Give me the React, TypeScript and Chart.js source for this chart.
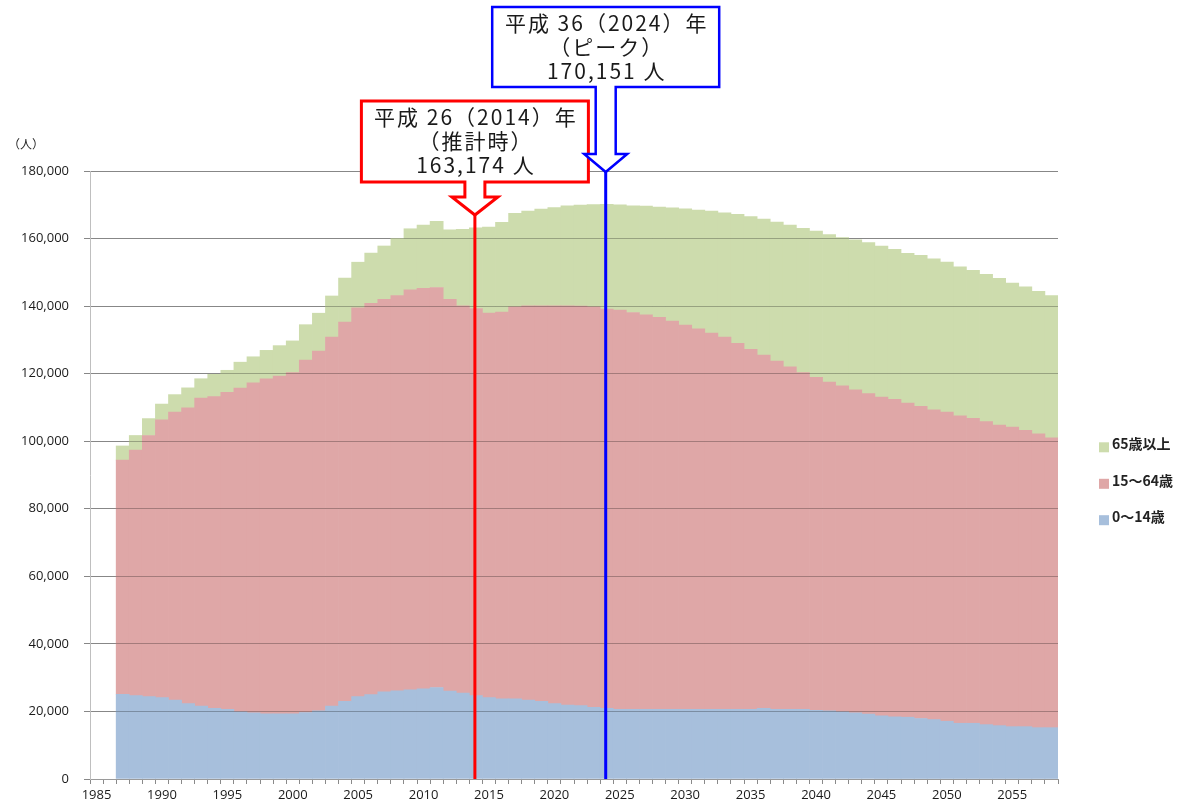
import React, { useEffect, useRef } from 'react';
import { Chart, registerables } from 'chart.js';

Chart.register(...registerables);

// ---- Data ----
const years = [
  1985, 1986, 1987, 1988, 1989, 1990, 1991, 1992, 1993, 1994,
  1995, 1996, 1997, 1998, 1999, 2000, 2001, 2002, 2003, 2004,
  2005, 2006, 2007, 2008, 2009, 2010, 2011, 2012, 2013, 2014,
  2015, 2016, 2017, 2018, 2019, 2020, 2021, 2022, 2023, 2024,
  2025, 2026, 2027, 2028, 2029, 2030, 2031, 2032, 2033, 2034,
  2035, 2036, 2037, 2038, 2039, 2040, 2041, 2042, 2043, 2044,
  2045, 2046, 2047, 2048, 2049, 2050, 2051, 2052, 2053, 2054,
  2055, 2056, 2057, 2058,
];

const xLabelYears = [1985, 1990, 1995, 2000, 2005, 2010, 2015, 2020, 2025, 2030, 2035, 2040, 2045, 2050, 2055];

const age0to14 = [
  null, null, 25100, 24700, 24400, 24100, 23400, 22300, 21600, 20900,
  20600, 19900, 19600, 19300, 19300, 19300, 19700, 20200, 21600, 23000,
  24400, 25000, 25800, 26100, 26400, 26700, 27100, 26000, 25400, 24700,
  24100, 23700, 23700, 23400, 23000, 22300, 21900, 21700, 21200, 20900,
  20600, 20600, 20600, 20600, 20600, 20600, 20600, 20600, 20600, 20600,
  20600, 20900, 20600, 20600, 20600, 20300, 20200, 19900, 19600, 19200,
  18700, 18400, 18300, 17900, 17600, 17100, 16500, 16500, 16100, 15800,
  15500, 15500, 15200, 15200,
];

const age15to64 = [
  null, null, 69300, 72700, 77300, 82200, 85200, 87600, 91200, 92300,
  93900, 95800, 97700, 99200, 100000, 101000, 104300, 106500, 109200, 112300,
  115100, 115800, 116200, 117000, 118400, 118600, 118400, 116000, 114700, 114600,
  113800, 114500, 116100, 116700, 117100, 117800, 118200, 118300, 118600, 118200,
  118200, 117500, 116800, 116100, 115000, 113800, 112700, 111400, 110200, 108400,
  106600, 104600, 103100, 101400, 99700, 98600, 97300, 96500, 95600, 94900,
  94400, 94000, 93000, 92400, 91700, 91500, 91000, 90300, 89700, 89000,
  88700, 87700, 87000, 85800,
];

const age65plus = [
  null, null, 4200, 4300, 5000, 4700, 5200, 5900, 5700, 6600,
  6500, 7700, 7700, 8400, 9000, 9400, 10500, 11200, 12200, 13000,
  13500, 14900, 15800, 16900, 18100, 18700, 19600, 20600, 22600, 23874,
  25500, 26600, 27700, 28000, 28600, 29100, 29600, 29900, 30250, 31051,
  31200, 31600, 32200, 32600, 33500, 34400, 35100, 36100, 36800, 38200,
  39300, 40300, 41200, 42000, 42700, 43300, 43700, 43900, 44400, 44700,
  44700, 44400, 44300, 44700, 44700, 44400, 44100, 43800, 43600, 43400,
  42600, 42500, 42200, 42100,
];

const seriesNames = ['0〜14歳', '15〜64歳', '65歳以上'];
const yTicks = [0, 20000, 40000, 60000, 80000, 100000, 120000, 140000, 160000, 180000];
const unitLabel = '（人）';

const calloutYears = [2014, 2024];
const calloutTexts = [
  ['平成 26（2014）年', '（推計時）', '163,174 人'],
  ['平成 36（2024）年', '（ピーク）', '170,151 人'],
];

// ---- Styles ----
const seriesColors = ['#A7BFDC', '#DFA7A7', '#CDDCAD'];
const calloutStyles = [
  { color: '#FF0000', top: 101, boxBottom: 182, half: 113.5, stemHalf: 10, stemBottom: 197, wingHalf: 23, tipY: 215, lw: 3 },
  { color: '#0000FF', top: 7, boxBottom: 87, half: 113.5, stemHalf: 10, stemBottom: 154, wingHalf: 21.5, tipY: 172, lw: 2.5 },
];
const CJK = '"Noto Sans CJK JP", "Noto Sans", sans-serif';
const LATIN = '"Open Sans", "Liberation Sans", sans-serif';

const alignPixel = (p: number, w: number) => Math.round(p - w / 2) + w / 2;

const gridOverlayPlugin = {
  id: 'gridOverlay',
  afterDatasetsDraw(chart: any) {
    const ctx = chart.ctx;
    const area = chart.chartArea;
    const yScale = chart.scales.y;
    const topMeta = chart.getDatasetMeta(chart.data.datasets.length - 1);
    ctx.save();
    ctx.beginPath();
    topMeta.data.forEach((el: any) => {
      const p = el.getProps(['x', 'y', 'width'], true);
      if (p.y == null || isNaN(p.y)) return;
      ctx.rect(p.x - p.width / 2 - 0.3, p.y, p.width + 0.6, area.bottom - p.y);
    });
    ctx.clip();
    ctx.globalCompositeOperation = 'multiply';
    ctx.strokeStyle = 'rgb(188,188,188)';
    ctx.lineWidth = 1;
    yTicks.forEach((v) => {
      const y = alignPixel(yScale.getPixelForValue(v), 1);
      ctx.beginPath();
      ctx.moveTo(area.left, y);
      ctx.lineTo(area.right, y);
      ctx.stroke();
    });
    ctx.restore();
  },
};

const decorPlugin = {
  id: 'decor',
  afterDraw(chart: any) {
    const ctx = chart.ctx;
    const area = chart.chartArea;
    const xScale = chart.scales.x;
    ctx.save();

    // unit label
    ctx.fillStyle = '#222';
    ctx.font = `12px ${CJK}`;
    ctx.textAlign = 'left';
    ctx.textBaseline = 'middle';
    ctx.fillText(unitLabel, 8, 144);

    // legend (reverse order: top series first)
    const legendX = area.right + 41;
    const rowCenters = [443.8, 480.3, 516.7];
    ctx.font = `bold 14px ${CJK}`;
    for (let r = 0; r < 3; r++) {
      const si = 2 - r;
      const yc = rowCenters[r];
      ctx.fillStyle = seriesColors[si];
      ctx.fillRect(legendX, yc - 1.5, 10, 10);
      ctx.fillStyle = '#222';
      ctx.textAlign = 'left';
      ctx.textBaseline = 'middle';
      ctx.fillText(seriesNames[si], legendX + 13, yc);
    }

    // callouts
    calloutYears.forEach((yr, k) => {
      const s = calloutStyles[k];
      const cx = xScale.getPixelForValue(years.indexOf(yr)) - 1;
      ctx.lineJoin = 'miter';
      ctx.strokeStyle = s.color;
      ctx.lineWidth = 3;
      ctx.beginPath();
      ctx.moveTo(cx, s.tipY);
      ctx.lineTo(cx, area.bottom);
      ctx.stroke();

      ctx.beginPath();
      ctx.moveTo(cx - s.half, s.top);
      ctx.lineTo(cx + s.half, s.top);
      ctx.lineTo(cx + s.half, s.boxBottom);
      ctx.lineTo(cx + s.stemHalf, s.boxBottom);
      ctx.lineTo(cx + s.stemHalf, s.stemBottom);
      ctx.lineTo(cx + s.wingHalf, s.stemBottom);
      ctx.lineTo(cx, s.tipY);
      ctx.lineTo(cx - s.wingHalf, s.stemBottom);
      ctx.lineTo(cx - s.stemHalf, s.stemBottom);
      ctx.lineTo(cx - s.stemHalf, s.boxBottom);
      ctx.lineTo(cx - s.half, s.boxBottom);
      ctx.closePath();
      ctx.fillStyle = '#ffffff';
      ctx.fill();
      ctx.lineWidth = s.lw;
      ctx.stroke();

      ctx.fillStyle = '#1a1a1a';
      ctx.font = `21px ${CJK}`;
      (ctx as any).letterSpacing = '2px';
      ctx.textAlign = 'center';
      ctx.textBaseline = 'middle';
      const offs = [16, 40, 64];
      calloutTexts[k].forEach((t, i) => ctx.fillText(t, cx + 1, s.top + offs[i]));
      (ctx as any).letterSpacing = '0px';
    });

    ctx.restore();
  },
};

export default function App() {
  const canvasRef = useRef<HTMLCanvasElement | null>(null);

  useEffect(() => {
    if (!canvasRef.current) return;
    const datasets = [age0to14, age15to64, age65plus].map((d, i) => ({
      label: seriesNames[i],
      data: d,
      backgroundColor: seriesColors[i],
      borderWidth: 0,
      barPercentage: 1,
      categoryPercentage: 1,
      stack: 'pop',
    }));
    const chart = new Chart(canvasRef.current, {
      type: 'bar',
      data: { labels: years.map(String), datasets: datasets as any },
      options: {
        animation: false,
        responsive: true,
        maintainAspectRatio: false,
        layout: { padding: { top: 171, right: 125, left: 0, bottom: 0 } },
        plugins: { legend: { display: false }, tooltip: { enabled: false } },
        scales: {
          x: {
            stacked: true,
            grid: { display: true, drawOnChartArea: false, drawTicks: true, tickLength: 5, offset: true, color: '#8a8a8a' },
            border: { color: '#9a9a9a' },
            ticks: {
              autoSkip: false,
              maxRotation: 0,
              minRotation: 0,
              padding: 3,
              color: '#1a1a1a',
              font: { family: LATIN, size: 13 },
              callback: (_v: any, i: number) => (xLabelYears.includes(years[i]) ? String(years[i]) : ''),
            },
            afterFit: (s: any) => { s.height = 26; },
          },
          y: {
            stacked: true,
            min: 0,
            max: 180000,
            afterBuildTicks: (s: any) => { s.ticks = yTicks.map((v) => ({ value: v })); },
            grid: { color: '#878787', tickLength: 6 },
            border: { color: '#bfbfbf' },
            ticks: {
              padding: 15,
              color: '#1a1a1a',
              font: { family: LATIN, size: 13 },
              callback: (v: any) => Number(v).toLocaleString('en-US'),
            },
            afterFit: (s: any) => { s.width = 90; },
          },
        },
      } as any,
      plugins: [gridOverlayPlugin, decorPlugin],
    });
    return () => chart.destroy();
  }, []);

  return (
    <div style={{ position: 'fixed', left: 0, top: 0, width: 1183, height: 805, background: '#ffffff' }}>
      <canvas ref={canvasRef} />
    </div>
  );
}
